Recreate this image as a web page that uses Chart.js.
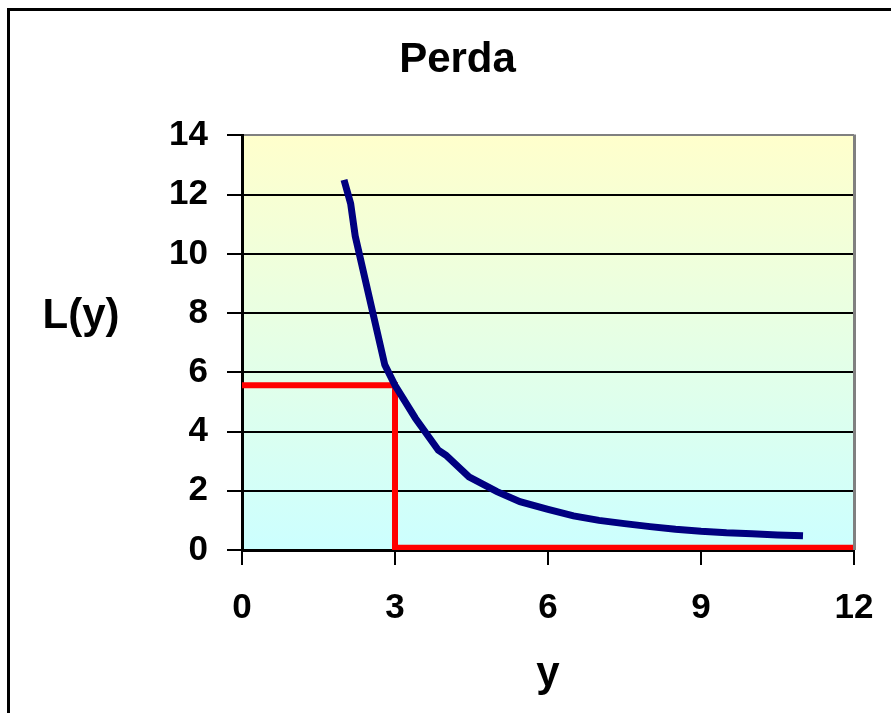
<!DOCTYPE html>
<html>
<head>
<meta charset="utf-8">
<style>
  html, body { margin: 0; padding: 0; background: #fff; overflow: hidden; }
  #chart { display: block; }
</style>
<script src="https://cdn.jsdelivr.net/npm/chart.js@4/dist/chart.umd.min.js"></script>
</head>
<body>
<canvas id="chart" width="891" height="713"></canvas>
<script>
// Loss curve L(y) versus y
const yValues    = [2.0, 2.13, 2.22, 2.8, 3.0, 3.4, 3.85, 4.0, 4.45, 5.0, 5.45, 6.0, 6.5, 7.0, 7.5, 8.0, 8.5, 9.0, 9.5, 10.0, 10.5, 11.0];
const lossValues = [12.5, 11.7, 10.6, 6.25, 5.56, 4.45, 3.37, 3.2, 2.47, 1.97, 1.63, 1.37, 1.15, 1.0, 0.89, 0.79, 0.7, 0.63, 0.58, 0.55, 0.51, 0.48];

// Reference path marking the loss at y = 3
const markerY    = [0, 3, 3, 12];
const markerLoss = [5.56, 5.56, 0.08, 0.08];

// Axis ranges and tick steps
const xTicks = [0, 3, 6, 9, 12];
const yTicks = [0, 2, 4, 6, 8, 10, 12, 14];

const FONT = "'Liberation Sans', Arial, sans-serif";

const lossPoints   = yValues.map((v, i) => ({ x: v, y: lossValues[i] }));
const markerPoints = markerY.map((v, i) => ({ x: v, y: markerLoss[i] }));

// Frame, plot-area gradient, borders and the horizontal axis caption
const decor = {
  id: 'decor',
  beforeDraw(chart) {
    const { ctx, chartArea: a } = chart;
    ctx.save();
    ctx.fillStyle = '#ffffff';
    ctx.fillRect(0, 0, chart.width, chart.height);
    ctx.strokeStyle = '#000000';
    ctx.lineWidth = 3;
    ctx.strokeRect(8.5, 9.5, 1000, 1000);
    const g = ctx.createLinearGradient(0, a.top, 0, a.bottom);
    g.addColorStop(0, '#FFFFCC');
    g.addColorStop(1, '#CCFFFF');
    ctx.fillStyle = g;
    ctx.fillRect(a.left, a.top, a.right - a.left, a.bottom - a.top);
    ctx.restore();
  },
  afterDraw(chart) {
    const { ctx, chartArea: a } = chart;
    ctx.save();
    ctx.strokeStyle = '#808080';
    ctx.lineWidth = 3;
    ctx.beginPath();
    ctx.moveTo(a.right + 0.5, a.top - 1);
    ctx.lineTo(a.right + 0.5, a.bottom);
    ctx.stroke();
    ctx.fillStyle = '#000000';
    ctx.font = 'bold 42px ' + FONT;
    ctx.textAlign = 'center';
    ctx.textBaseline = 'middle';
    ctx.fillText('L(y)', 81, 316);
    ctx.restore();
  }
};

new Chart(document.getElementById('chart'), {
  type: 'line',
  data: {
    datasets: [
      {
        data: lossPoints,
        borderColor: '#000080',
        borderWidth: 7,
        pointRadius: 0,
        tension: 0,
        fill: false,
        order: 1
      },
      {
        data: markerPoints,
        borderColor: '#FF0000',
        borderWidth: 6,
        pointRadius: 0,
        tension: 0,
        fill: false,
        order: 2
      }
    ]
  },
  options: {
    responsive: false,
    animation: false,
    devicePixelRatio: 1,
    layout: { padding: { left: 61, right: 37, top: 0, bottom: 0 } },
    plugins: {
      legend: { display: false },
      tooltip: { enabled: false },
      title: {
        display: true,
        text: 'Perda',
        color: '#000000',
        font: { family: FONT, size: 42, weight: 'bold' },
        padding: { top: 35, bottom: 50 }
      }
    },
    scales: {
      x: {
        type: 'linear',
        min: xTicks[0],
        max: xTicks[xTicks.length - 1],
        afterBuildTicks: (s) => { s.ticks = xTicks.map(v => ({ value: v })); },
        afterFit: (s) => { s.height = 163; },
        border: { display: true, color: '#000000', width: 3 },
        grid: { drawOnChartArea: false, drawTicks: true, tickLength: 15, color: '#000000', lineWidth: 2 },
        ticks: {
          color: '#000000',
          padding: 17,
          font: { family: FONT, size: 35, weight: 'bold', lineHeight: 1.5 }
        },
        title: {
          display: true,
          text: 'y',
          color: '#000000',
          font: { family: FONT, size: 42, weight: 'bold' },
          padding: { top: 22, bottom: 13 }
        }
      },
      y: {
        type: 'linear',
        min: yTicks[0],
        max: yTicks[yTicks.length - 1],
        afterBuildTicks: (s) => { s.ticks = yTicks.map(v => ({ value: v })); },
        afterFit: (s) => { s.width = 181; },
        border: { display: true, color: '#000000', width: 3 },
        grid: {
          drawOnChartArea: true,
          drawTicks: true,
          tickLength: 15,
          lineWidth: 2,
          color: (c) => (c.tick && c.tick.value === 14 ? '#808080' : '#000000'),
          tickColor: '#000000'
        },
        ticks: {
          color: '#000000',
          padding: 19,
          font: { family: FONT, size: 35, weight: 'bold' }
        }
      }
    }
  },
  plugins: [decor]
});
</script>
</body>
</html>
